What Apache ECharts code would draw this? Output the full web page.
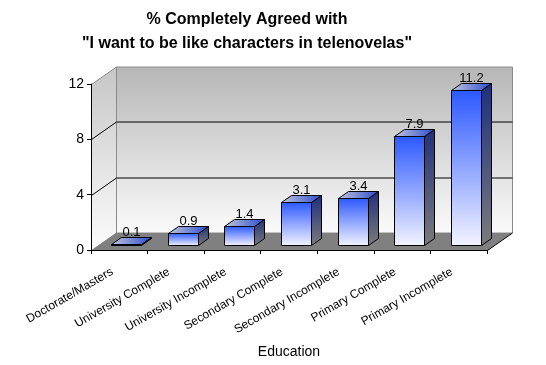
<!DOCTYPE html>
<html><head><meta charset="utf-8">
<script src="https://cdn.jsdelivr.net/npm/echarts@6/dist/echarts.min.js"></script>
<style>html,body{margin:0;padding:0;background:#fff}#c{width:546px;height:365px}</style>
</head><body><div id="c"></div>
<script>
const categories = ['Doctorate/Masters','University Complete','University Incomplete','Secondary Complete','Secondary Incomplete','Primary Complete','Primary Incomplete'];
const values = [0.1, 0.9, 1.4, 3.1, 3.4, 7.9, 11.2];
const yTicks = [0, 4, 8, 12];
const titleLines = ['% Completely Agreed with', '"I want to be like characters in telenovelas"'];
const xAxisName = 'Education';

const FONT = '"Liberation Sans", Arial, sans-serif';
const DX = 25, DY = -17.5;      // depth vector of the 3D box
const F0 = 0.28, F1 = 0.68;      // bar depth range
const BAR = 0.53;                // bar width as fraction of band
const LG = echarts.graphic.LinearGradient;
const r = v => Math.round(v) + 0.5;

function renderWalls(params, api) {
  if (params.dataIndex !== 0) return;
  const n = categories.length;
  const band = api.size([1, 0])[0];
  const x0 = r(api.coord([0, 0])[0] - band / 2);
  const x1 = r(api.coord([n - 1, 0])[0] + band / 2);
  const yb = r(api.coord([0, yTicks[0]])[1]);
  const yt = r(api.coord([0, yTicks[yTicks.length - 1]])[1]);
  const ch = [];
  ch.push({type: 'polygon', shape: {points: [[x0 + DX, yt + DY], [x1 + DX, yt + DY], [x1 + DX, yb + DY], [x0 + DX, yb + DY]]},
    style: {fill: new LG(0, 0, 0, 1, [{offset: 0, color: '#b6b6b6'}, {offset: 1, color: '#fbfbfb'}]), stroke: '#8a8a8a', lineWidth: 1}});
  ch.push({type: 'polygon', shape: {points: [[x0, yb], [x0, yt], [x0 + DX, yt + DY], [x0 + DX, yb + DY]]},
    style: {fill: new LG(0, 0, 0, 1, [{offset: 0, color: '#c6c6c6'}, {offset: 1, color: '#fcfcfc'}]), stroke: '#8a8a8a', lineWidth: 1}});
  ch.push({type: 'polygon', shape: {points: [[x0, yb], [x1, yb], [x1 + DX, yb + DY], [x0 + DX, yb + DY]]},
    style: {fill: '#808080'}});
  ch.push({type: 'line', shape: {x1: x1, y1: yb, x2: x1 + DX, y2: yb + DY}, style: {stroke: '#000', lineWidth: 1}});
  yTicks.slice(1, -1).forEach(v => {
    const y = r(api.coord([0, v])[1]);
    ch.push({type: 'polyline', shape: {points: [[x0, y], [x0 + DX, y + DY], [x1 + DX, y + DY]]}, style: {stroke: '#000', lineWidth: 1, fill: null}});
  });
  return {type: 'group', children: ch};
}

function renderBar(params, api) {
  const c = api.value(0), v = api.value(1);
  const p0 = api.coord([c, 0]), p1 = api.coord([c, v]);
  const w = api.size([1, 0])[0] * BAR;
  const ox = DX * F0, oy = DY * F0, dx = DX * (F1 - F0), dy = DY * (F1 - F0);
  const L = Math.round(p0[0] - w / 2 + ox) + 0.5, R = Math.round(p0[0] + w / 2 + ox) + 0.5;
  const B = Math.round(p0[1] + oy) + 0.5, T = Math.round(p1[1] + oy) + 0.5;
  const st = {stroke: '#000', lineWidth: 1, lineJoin: 'round'};
  return {type: 'group', children: [
    {type: 'polygon', shape: {points: [[R, T], [R + dx, T + dy], [R + dx, B + dy], [R, B]]},
      style: Object.assign({fill: new LG(0, 0, 0, 1, [{offset: 0, color: '#1f2f7c'}, {offset: 1, color: '#7c7c7c'}])}, st)},
    {type: 'polygon', shape: {points: [[L, T], [R, T], [R + dx, T + dy], [L + dx, T + dy]]},
      style: Object.assign({fill: new LG(0, 0, 1, 0, [{offset: 0, color: '#c2c6dc'}, {offset: 1, color: '#2a4acc'}])}, st)},
    {type: 'polygon', shape: {points: [[L, T], [R, T], [R, B], [L, B]]},
      style: Object.assign({fill: new LG(0, 0, 0, 1, [{offset: 0, color: '#2c58ff'}, {offset: 1, color: '#f4f4ff'}])}, st)},
    {type: 'text', style: {text: String(v), x: (L + R) / 2 + dx / 2, y: T + dy + 1, align: 'center', verticalAlign: 'bottom',
      font: '13px ' + FONT, fill: '#000'}}
  ]};
}

const chart = echarts.init(document.getElementById('c'), null, {renderer: 'canvas'});
chart.setOption({
  animation: false,
  backgroundColor: '#fff',
  title: {text: titleLines.join('\n'), left: 242, top: 3, textAlign: 'center',
    textStyle: {fontFamily: FONT, fontSize: 16, fontWeight: 'bold', color: '#000', lineHeight: 24}},
  grid: {left: 91, right: 59, top: 84, bottom: 115},
  xAxis: {type: 'category', data: categories, z: 10,
    axisLine: {lineStyle: {color: '#000', width: 1}},
    axisTick: {show: true, length: 4, lineStyle: {color: '#000'}},
    axisLabel: {rotate: 30, fontSize: 12, color: '#000', fontFamily: FONT, margin: 17, interval: 0, padding: [0, 8, 0, 0]},
    name: xAxisName, nameLocation: 'middle', nameGap: 95,
    nameTextStyle: {fontSize: 14, color: '#000', fontFamily: FONT}},
  yAxis: {type: 'value', min: 0, max: 12, interval: 4, z: 10,
    axisLine: {show: true, lineStyle: {color: '#000', width: 1}},
    axisTick: {show: true, length: 4, lineStyle: {color: '#000'}},
    axisLabel: {fontSize: 14, color: '#000', fontFamily: FONT, margin: 7},
    splitLine: {show: false}},
  series: [
    {type: 'custom', z: 1, renderItem: renderWalls, data: values.map((v, i) => [i, v]), silent: true},
    {type: 'custom', z: 3, renderItem: renderBar, data: values.map((v, i) => [i, v])}
  ]
});
</script></body></html>
